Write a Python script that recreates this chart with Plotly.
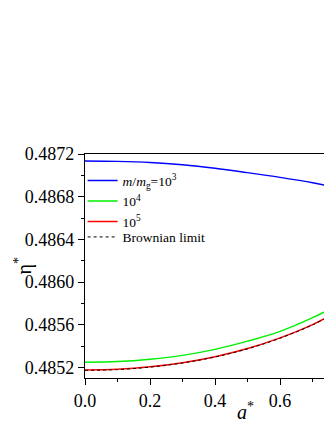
import plotly.graph_objects as go

a_star = [0.0, 0.1, 0.2, 0.3, 0.4, 0.5, 0.6, 0.7, 0.76]

eta_1e3 = [0.487134, 0.487131, 0.487121, 0.487099, 0.487066, 0.487025, 0.486981, 0.486931, 0.486893]
eta_1e4 = [0.485247, 0.485254, 0.485276, 0.485312, 0.485368, 0.485445, 0.485537, 0.485665, 0.485758]
eta_1e5 = [0.485175, 0.485182, 0.485205, 0.485244, 0.485300, 0.485376, 0.485476, 0.485601, 0.485695]
eta_brown = [0.485172, 0.485179, 0.485202, 0.485241, 0.485297, 0.485373, 0.485473, 0.485598, 0.485692]

names = [
    "<i>m</i>/<i>m</i><sub>g</sub>=10<sup>3</sup>",
    "10<sup>4</sup>",
    "10<sup>5</sup>",
    "Brownian limit",
]

y_ticks = [0.4852, 0.4856, 0.4860, 0.4864, 0.4868, 0.4872]
x_ticks = [0.0, 0.2, 0.4, 0.6]

serif = "Liberation Serif"

fig = go.Figure()
fig.add_trace(go.Scatter(x=a_star, y=eta_1e3, mode="lines", name=names[0], line=dict(color="#0000ff", width=1.4, shape="spline")))
fig.add_trace(go.Scatter(x=a_star, y=eta_1e4, mode="lines", name=names[1], line=dict(color="#00f000", width=1.4, shape="spline")))
fig.add_trace(go.Scatter(x=a_star, y=eta_1e5, mode="lines", name=names[2], line=dict(color="#ff0000", width=1.5, shape="spline")))
# Brownian entry in its own legend box so its row spacing matches the reference
fig.add_trace(go.Scatter(x=a_star, y=eta_brown, mode="lines", name=names[3], legend="legend2",
                         line=dict(color="black", width=1.0, dash="dot", shape="spline")))

legend_style = dict(
    xanchor="left",
    yanchor="top",
    bgcolor="rgba(0,0,0,0)",
    font=dict(family=serif, size=13.5),
    tracegroupgap=0,
    itemwidth=30,
)

# the page body keeps an 8px margin, so the figure is sized/shifted to compensate
fig.update_layout(
    width=316,
    height=414,
    margin=dict(l=77, r=0, t=146, b=44),
    plot_bgcolor="white",
    paper_bgcolor="white",
    font=dict(family=serif, size=18, color="black"),
    showlegend=True,
    legend=dict(x=-0.01, y=0.95, **legend_style),
    legend2=dict(x=-0.01, y=0.698, **legend_style),
    xaxis=dict(
        range=[0, 0.735],
        tickvals=x_ticks,
        ticktext=[f"{v:.1f}" for v in x_ticks],
        tickfont=dict(family=serif, size=18),
        ticks="outside",
        ticklen=6,
        tickcolor="black",
        minor=dict(dtick=0.1, tick0=0, ticks="outside", ticklen=3, tickcolor="black"),
        showline=True,
        linecolor="black",
        linewidth=1.2,
        mirror=True,
        showgrid=False,
        zeroline=False,
    ),
    yaxis=dict(
        range=[0.4851, 0.4872],
        tickvals=y_ticks,
        ticktext=[f"{v:.4f}" for v in y_ticks],
        tickfont=dict(family=serif, size=18),
        ticks="outside",
        ticklen=6,
        tickcolor="black",
        minor=dict(dtick=0.0002, tick0=0.4852, ticks="outside", ticklen=3, tickcolor="black"),
        showline=True,
        linecolor="black",
        linewidth=1.2,
        showgrid=False,
        zeroline=False,
    ),
    annotations=[
        dict(
            xref="paper", yref="paper", x=0.67, y=-0.148,
            text="<i>a</i><sup>*</sup>", showarrow=False,
            font=dict(family=serif, size=20), xanchor="center", yanchor="middle",
        ),
        dict(
            xref="paper", yref="paper", x=-0.322, y=0.5,
            text="η<sup>*</sup>", showarrow=False, textangle=-90,
            font=dict(family=serif, size=20), xanchor="left", yanchor="middle",
        ),
    ],
)

fig.write_html("out.html")
